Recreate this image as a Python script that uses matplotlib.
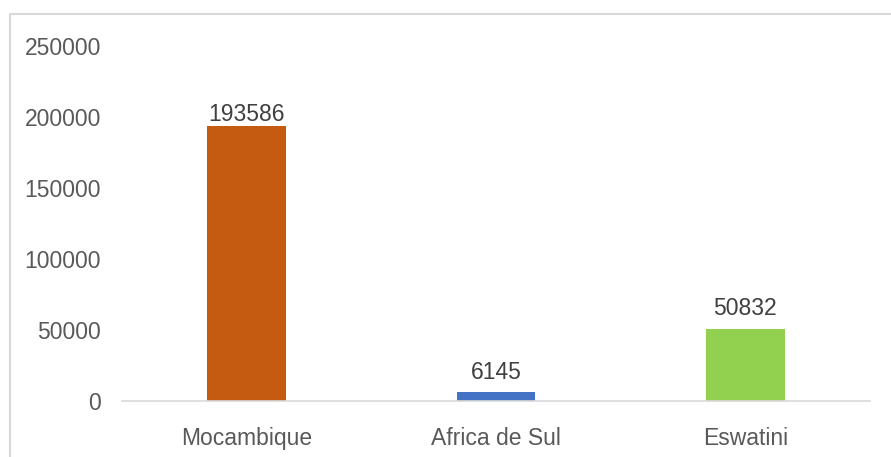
import matplotlib
matplotlib.use("Agg")
import matplotlib.pyplot as plt
from matplotlib.patches import Rectangle

categories = ["Mocambique", "Africa de Sul", "Eswatini"]
values = [193586, 6145, 50832]
colors = ["#C55A11", "#4472C4", "#92D050"]
yticks = [0, 50000, 100000, 150000, 200000, 250000]
label_offsets = [0, 6, 6]

plt.rcParams["font.family"] = ["Liberation Sans", "DejaVu Sans"]

W, H = 891, 457
fig = plt.figure(figsize=(W / 100, H / 100), dpi=100)
ax = fig.add_axes([122 / W, 1 - 401 / H, (870 - 122) / W, (401 - 46) / H])

x = list(range(len(categories)))
bars = ax.bar(x, values, width=0.315, color=colors, zorder=2)
ax.set_xlim(-0.5, len(categories) - 0.5)
ax.set_ylim(0, 250000)
ax.set_yticks(yticks)
ax.set_yticklabels([str(v) for v in yticks])
ax.set_xticks(x)
ax.set_xticklabels(categories)
for s in ["top", "right", "left"]:
    ax.spines[s].set_visible(False)
ax.spines["bottom"].set_color("#D9D9D9")
ax.spines["bottom"].set_linewidth(1.2)
ax.tick_params(axis="both", length=0, labelsize=16.5, colors="#595959")
ax.tick_params(axis="y", pad=15)
ax.tick_params(axis="x", pad=19)

for b, v, off in zip(bars, values, label_offsets):
    ax.annotate(str(v), (b.get_x() + b.get_width() / 2, v), xytext=(0, off),
                textcoords="offset points", ha="center", va="bottom",
                fontsize=16.5, color="#404040")

fig.patches.append(Rectangle((10 / W, -0.1), 1.2, 1 - 14 / H + 0.1,
                             transform=fig.transFigure, fill=False,
                             edgecolor="#D9D9D9", linewidth=1.5))
fig.savefig("out.png", dpi=100)
